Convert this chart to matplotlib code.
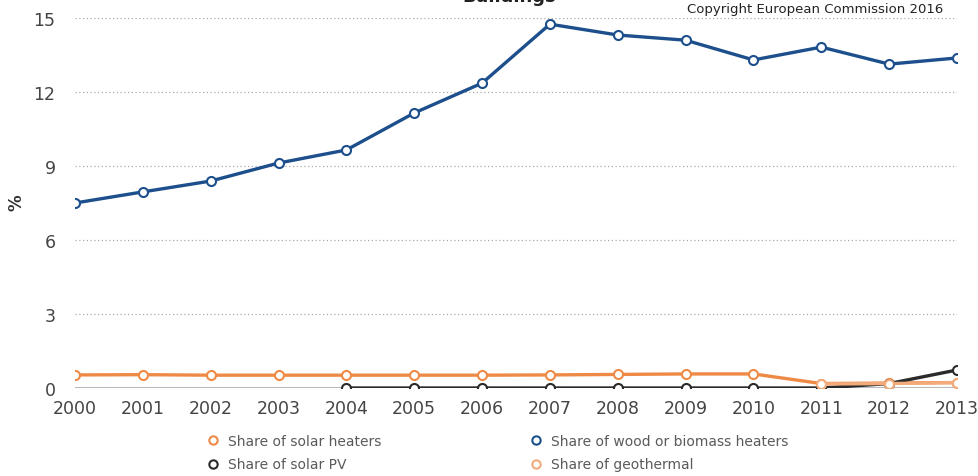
import matplotlib.pyplot as plt
import numpy as np

years = list(range(2000, 2014))
solar_heaters = [0.53, 0.54, 0.52, 0.52, 0.52, 0.52, 0.52, 0.53, 0.55, 0.57, 0.57, 0.18, 0.2, 0.22]
wood_biomass = [7.5, 7.95, 8.39, 9.12, 9.65, 11.15, 12.36, 14.75, 14.31, 14.1, 13.3, 13.82, 13.13, 13.38]
solar_pv = [np.nan, np.nan, np.nan, np.nan, 0.0, 0.0, 0.0, 0.0, 0.0, 0.0, 0.0, 0.0, 0.18, 0.73]
geothermal = [np.nan] * 11 + [0.16, 0.18, 0.22]
y_ticks = [0, 3, 6, 9, 12, 15]

series = [
    ("Share of solar heaters", solar_heaters, "#ee8a45"),
    ("Share of wood or biomass heaters", wood_biomass, "#1c4f8c"),
    ("Share of solar PV", solar_pv, "#2a2a2a"),
    ("Share of geothermal", geothermal, "#f3ab7c"),
]

fig = plt.figure(figsize=(9.79, 4.77), dpi=100)
ax = fig.add_axes([75 / 979, 1 - 389 / 477, (957 - 75) / 979, (389 - 19) / 477])

# blue on top, geothermal underneath
draw_order = [3, 0, 2, 1]
handles = {}
for i in draw_order:
    label, vals, color = series[i]
    (h,) = ax.plot(years, vals, color=color, lw=2.4, marker="o", ms=6.5,
                   mfc="white", mec=color, mew=1.5, label=label, zorder=3 + i * 0.1)
    handles[i] = h

ax.set_xlim(2000, 2013)
ax.set_ylim(0, 15)
ax.set_xticks(years)
ax.set_yticks(y_ticks)
ax.tick_params(length=0, labelsize=12.5, labelcolor="#444444")
ax.tick_params(axis="x", pad=8)
ax.tick_params(axis="y", pad=14)
for s in ax.spines.values():
    s.set_visible(False)
ax.grid(axis="y", linestyle=(0, (1, 2)), color="#aaaaaa", lw=0.9)
ax.axhline(0, color="#bbbbbb", lw=1.5, zorder=1)

fig.text(17 / 979, 1 - 203 / 477, "%", rotation=90, ha="center", va="center",
         fontsize=12, fontweight="bold", color="#333333")
fig.text(0.52, 1.006, "Buildings", ha="center", va="center", fontsize=13,
         fontweight="bold", color="#222222")
fig.text(0.963, 0.981, "Copyright European Commission 2016", ha="right", va="center",
         fontsize=9.5, color="#222222")

order = [0, 2, 1, 3]
leg = fig.legend([handles[i] for i in order], [series[i][0] for i in order],
                 loc="lower left", bbox_to_anchor=(0.205, -0.002), ncol=2, frameon=False,
                 fontsize=10, labelcolor="#5a5a5a", handlelength=1.0, handletextpad=0.6,
                 columnspacing=10.6, labelspacing=0.7, borderaxespad=0.0)
for h in leg.legend_handles:
    h.set_linewidth(0)
    h.set_markersize(6)

fig.savefig("out.png", dpi=100)
